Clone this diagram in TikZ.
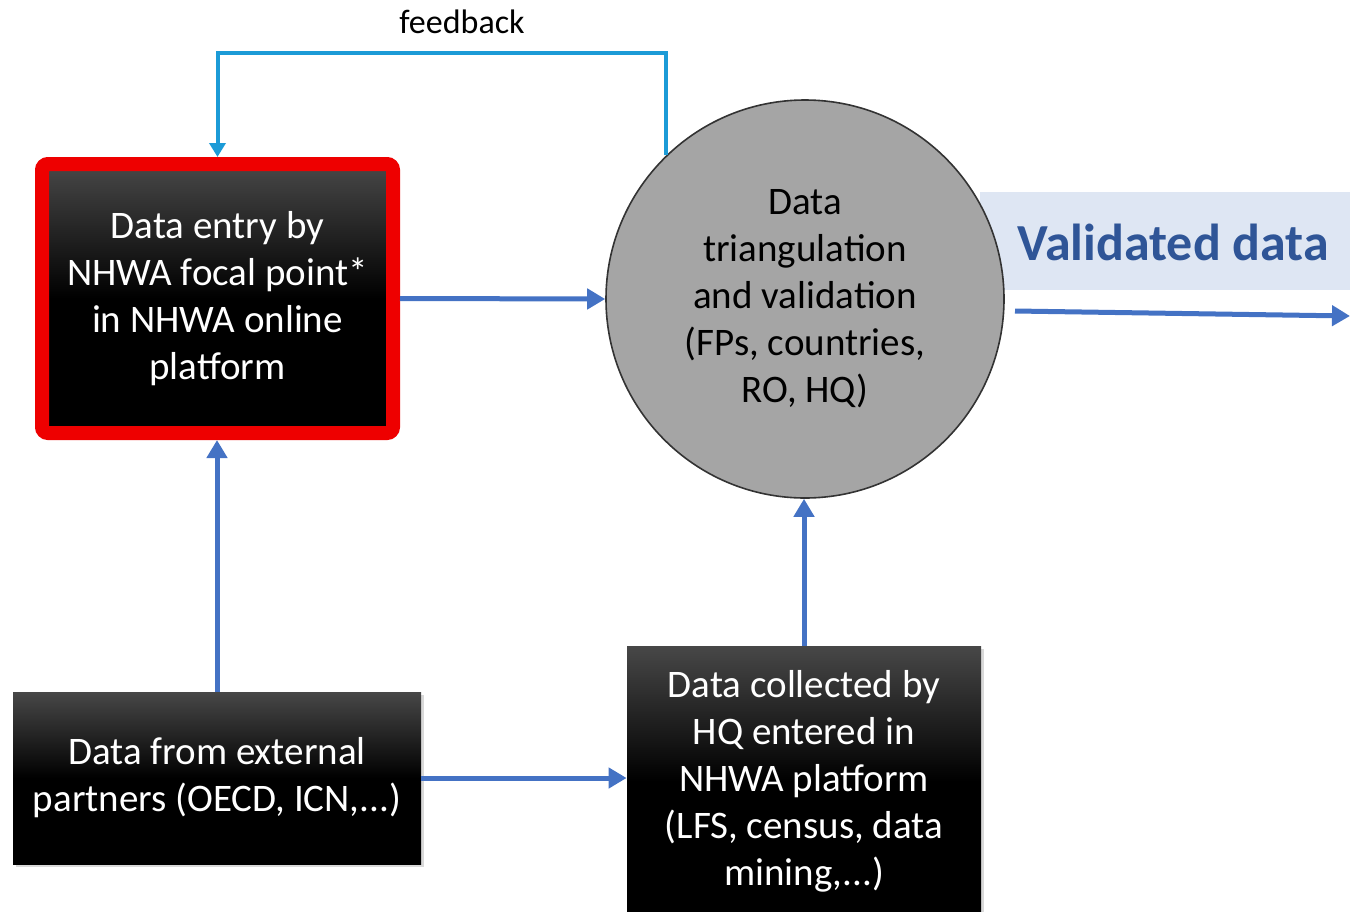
\documentclass[tikz,border=0pt]{standalone}
\usepackage{fontspec}
\setmainfont{Carlito}
\usetikzlibrary{arrows.meta,shadows}
\definecolor{arrowblue}{RGB}{68,114,196}
\definecolor{fbblue}{RGB}{28,155,215}
\definecolor{bandblue}{RGB}{222,230,243}
\definecolor{valblue}{RGB}{47,85,151}
\definecolor{circgray}{RGB}{165,165,165}
\definecolor{redframe}{RGB}{238,0,0}
\begin{document}
\begin{tikzpicture}[x=0.5pt,y=-0.5pt,
  boxtext/.style={text=white, align=center, font=\fontsize{19.5}{23.5}\selectfont},
  darkbox/.style={boxtext, rectangle, inner sep=0pt,
    top color=black!72, bottom color=black, middle color=black,
    drop shadow={opacity=0.3, shadow xshift=1.5pt, shadow yshift=-1.5pt}},
  flowarrow/.style={arrowblue, line width=2.5pt, -{Triangle[length=9pt,width=10pt]}},
  fbarrow/.style={fbblue, line width=2pt, -{Triangle[length=7pt,width=8pt]}},
]
\useasboundingbox (0,0) rectangle (1350,911);

% band behind "Validated data"
\fill[bandblue] (980,192) rectangle (1350,290);
\node[font=\fontsize{26}{30}\selectfont\bfseries, text=valblue] (val) at (1173,242) {Validated data};

% nodes
\node[darkbox, draw=redframe, line width=7pt, rounded corners=3pt,
  minimum width=175.5pt, minimum height=134.5pt] (entry) at (217.5,298.5)
  {Data entry by\\NHWA focal point*\\in NHWA online\\platform};

\node[circle, fill=circgray, draw=black!80, line width=0.8pt, minimum size=199pt,
  inner sep=0pt, align=center, font=\fontsize{19.5}{23.5}\selectfont] (circ) at (805,299)
  {Data\\triangulation\\and validation\\(FPs, countries,\\RO, HQ)};

\node[darkbox, minimum width=204pt, minimum height=86pt] (ext) at (217,778)
  {Data from external\\partners (OECD, ICN,...)};

\node[darkbox, minimum width=177pt, minimum height=135pt] (hq) at (804,781)
  {Data collected by\\HQ entered in\\NHWA platform\\(LFS, census, data\\mining,...)};

% feedback loop
\coordinate (fbline) at (0,53);
\node[font=\fontsize{17}{20}\selectfont] (fblabel) at (462,22) {feedback};
\draw[fbarrow] (circ.134) -- (circ.134 |- fbline) -| (entry.north);

% flow arrows
\draw[flowarrow] (entry.east) -- (circ.west);
\draw[flowarrow] (ext.north) -- (ext.north |- entry.south);
\draw[flowarrow] (ext.east) -- (ext.east -| hq.west);
\draw[flowarrow] (hq.north) -- (hq.north |- circ.south);

\coordinate (vs) at (1015,311);
\coordinate (ve) at (1350,316);
\draw[flowarrow] (vs) -- (ve);
\end{tikzpicture}
\end{document}
